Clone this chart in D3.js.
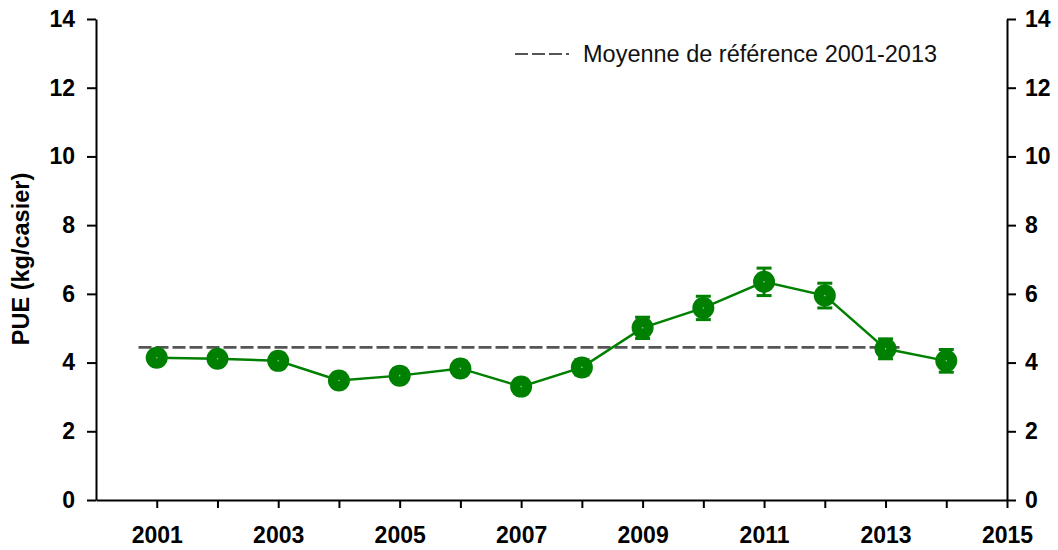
<!DOCTYPE html>
<html>
<head>
<meta charset="utf-8">
<script src="https://cdn.jsdelivr.net/npm/d3@7"></script>
<style>
  html, body { margin: 0; padding: 0; background: #fff; }
  svg { display: block; }
  text { font-family: "Liberation Sans", Arial, sans-serif; }
</style>
</head>
<body>
<svg id="chart" width="1058" height="550"></svg>
<script>
// ---- data ----
const years = [2001, 2002, 2003, 2004, 2005, 2006, 2007, 2008, 2009, 2010, 2011, 2012, 2013, 2014];
const pue   = [4.14, 4.11, 4.05, 3.48, 3.62, 3.83, 3.30, 3.86, 5.01, 5.59, 6.35, 5.95, 4.40, 4.05];
const errs  = [0.18, 0.18, 0.2, 0.18, 0.2, 0.2, 0.2, 0.22, 0.31, 0.34, 0.40, 0.36, 0.29, 0.33];
const refMean = 4.44;
const refSpan = [2000.7, 2013.25];
const xTicks = [2000, 2001, 2002, 2003, 2004, 2005, 2006, 2007, 2008, 2009, 2010, 2011, 2012, 2013, 2014, 2015];
const xLabels = [2001, 2003, 2005, 2007, 2009, 2011, 2013, 2015];
const yTicks = [0, 2, 4, 6, 8, 10, 12, 14];
const legendLabel = "Moyenne de référence 2001-2013";
const yTitle = "PUE (kg/casier)";

// ---- layout ----
const svg = d3.select("#chart");
const x = d3.scaleLinear().domain([2000, 2015]).range([96, 1007]);
const y = d3.scaleLinear().domain([0, 14]).range([500, 19]);
const green = "#008000";
const tickFont = 23;
const textFont = 23.5;

const leftAxis = d3.axisLeft(y).tickValues(yTicks).tickSize(9).tickPadding(12).tickSizeOuter(0);
const gl = svg.append("g").attr("transform", `translate(${x(2000)},0)`).call(leftAxis);
const rightAxis = d3.axisRight(y).tickValues(yTicks).tickSize(9).tickPadding(9).tickSizeOuter(0);
const gr = svg.append("g").attr("transform", `translate(${x(2015)},0)`).call(rightAxis);
const bottomAxis = d3.axisBottom(x).tickValues(xTicks).tickSize(8).tickSizeOuter(0)
  .tickFormat(d => xLabels.includes(d) ? d : "").tickPadding(19);
const gb = svg.append("g").attr("transform", `translate(0,${y(0)})`).call(bottomAxis);

[gl, gr, gb].forEach(g => {
  g.selectAll("path.domain").attr("stroke", "#000").attr("stroke-width", 2);
  g.selectAll(".tick line").attr("stroke", "#000").attr("stroke-width", 2);
  g.selectAll(".tick text").attr("fill", "#000").style("font-family", '"Liberation Sans", Arial, sans-serif')
    .style("font-size", tickFont + "px").style("font-weight", "bold");
});
gb.selectAll(".tick").filter(d => d === 2000).select("line").attr("y2", 0);

// Y title
svg.append("text")
  .attr("transform", `translate(29,259) rotate(-90)`)
  .attr("text-anchor", "middle")
  .style("font-size", textFont + "px").style("font-weight", "bold")
  .attr("fill", "#000")
  .text(yTitle);

// Reference mean line
svg.append("line")
  .attr("x1", x(refSpan[0])).attr("x2", x(refSpan[1]))
  .attr("y1", y(refMean)).attr("y2", y(refMean))
  .attr("stroke", "#555").attr("stroke-width", 2.8)
  .attr("stroke-dasharray", "13,4");

// Series line
const line = d3.line().x((d, i) => x(years[i])).y(d => y(d));
svg.append("path").datum(pue)
  .attr("d", line).attr("fill", "none")
  .attr("stroke", green).attr("stroke-width", 2.5);

// Error bars
const eb = svg.append("g").attr("stroke", green).attr("stroke-width", 3);
years.forEach((yr, i) => {
  const cx = x(yr), top = y(pue[i] + errs[i]), bot = y(pue[i] - errs[i]);
  eb.append("line").attr("x1", cx).attr("x2", cx).attr("y1", top).attr("y2", bot);
  eb.append("line").attr("x1", cx - 7.5).attr("x2", cx + 7.5).attr("y1", top).attr("y2", top);
  eb.append("line").attr("x1", cx - 7.5).attr("x2", cx + 7.5).attr("y1", bot).attr("y2", bot);
});

// Markers
svg.append("g").selectAll("circle").data(pue).join("circle")
  .attr("cx", (d, i) => x(years[i])).attr("cy", d => y(d))
  .attr("r", 11).attr("fill", green);
svg.append("g").selectAll("circle").data(pue).join("circle")
  .attr("cx", (d, i) => x(years[i])).attr("cy", d => y(d))
  .attr("r", 0.8).attr("fill", "#8fcf8f");

// Legend
svg.append("line")
  .attr("x1", 515).attr("x2", 569).attr("y1", 54).attr("y2", 54)
  .attr("stroke", "#555").attr("stroke-width", 2.2).attr("stroke-dasharray", "13,4");
svg.append("text")
  .attr("x", 583).attr("y", 54).attr("dy", "0.35em")
  .style("font-size", textFont + "px").attr("fill", "#111")
  .text(legendLabel);
</script>
</body>
</html>
